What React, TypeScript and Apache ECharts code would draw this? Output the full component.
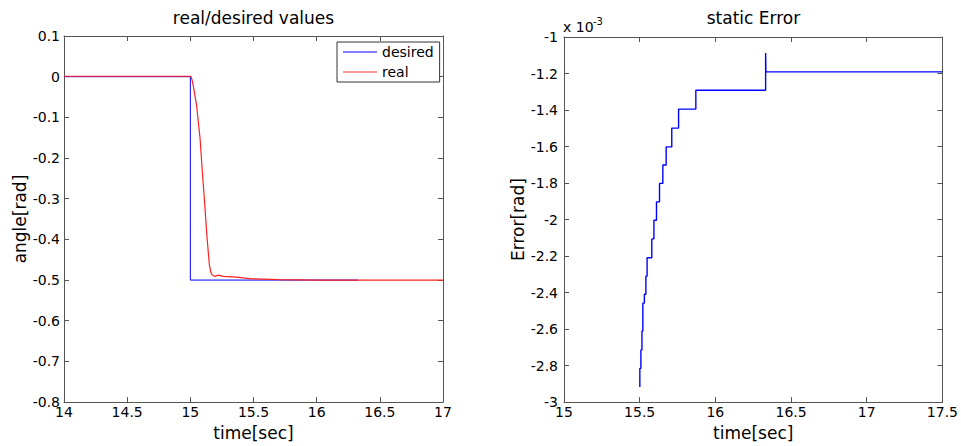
import React, { useEffect, useRef } from "react";
import * as echarts from "echarts";

// ---- data ----
const desiredT = [14, 15, 15, 16.33];
const desiredV = [0, 0, -0.5, -0.5];

const realT = [14, 15.003, 15.013, 15.024, 15.05, 15.077, 15.095, 15.114, 15.132, 15.15, 15.161, 15.172, 15.195, 15.221, 15.261, 15.367, 15.486, 15.7, 16.0, 17];
const realV = [0.001, 0.001, -0.007, -0.023, -0.072, -0.152, -0.233, -0.314, -0.395, -0.46, -0.48, -0.487, -0.491, -0.488, -0.491, -0.493, -0.497, -0.499, -0.5, -0.5];

// static error, in units of 1e-3 rad
const errT = [15.501, 15.501, 15.508, 15.515, 15.521, 15.531, 15.541, 15.549, 15.58, 15.594, 15.611, 15.631, 15.653, 15.675, 15.712, 15.757, 15.871, 16.332, 16.334, 17.5];
const errV = [-2.917, -2.815, -2.714, -2.611, -2.458, -2.409, -2.31, -2.209, -2.106, -2.004, -1.903, -1.802, -1.701, -1.602, -1.499, -1.395, -1.292, -1.088, -1.191, -1.191];

const leftX = { min: 14, max: 17, interval: 0.5 };
const leftY = { min: -0.8, max: 0.1, interval: 0.1 };
const rightX = { min: 15, max: 17.5, interval: 0.5 };
const rightY = { min: -3, max: -1, interval: 0.2 };

const titles = ["real/desired values", "static Error"];
const seriesNames = ["desired", "real"];

const zip = (a: number[], b: number[]) => a.map((v, i) => [v, b[i]]);

const FONT = "DejaVu Sans";
const AXIS_COLOR = "#555";

function axis(kind: "x" | "y", gridIndex: number, range: any, position: string, labels: boolean, name?: string, nameGap?: number, margin?: number) {
  return {
    type: "value",
    gridIndex,
    position,
    min: range.min,
    max: range.max,
    interval: range.interval,
    name: name || "",
    nameLocation: "middle",
    nameGap: nameGap || 0,
    nameTextStyle: { fontSize: 17, color: "#000", fontFamily: FONT },
    axisLine: { show: true, onZero: false, lineStyle: { color: AXIS_COLOR, width: 1 } },
    axisTick: { show: true, inside: true, length: 5, lineStyle: { color: AXIS_COLOR } },
    axisLabel: { show: labels, margin: margin || 4, fontSize: 14, color: "#000", fontFamily: FONT },
    splitLine: { show: false },
  };
}

export default function App() {
  const ref = useRef<HTMLDivElement>(null);
  useEffect(() => {
    if (!ref.current) return;
    const chart = echarts.init(ref.current, undefined, { renderer: "svg" });
    chart.setOption({
      animation: false,
      backgroundColor: "#fff",
      textStyle: { fontFamily: FONT },
      grid: [
        { left: 64, top: 36, width: 379, height: 371, containLabel: false },
        { left: 564, top: 37, width: 379, height: 370, containLabel: false },
      ],
      xAxis: [
        axis("x", 0, leftX, "bottom", true, "time[sec]", 20, 3),
        axis("x", 0, leftX, "top", false),
        axis("x", 1, rightX, "bottom", true, "time[sec]", 20, 3),
        axis("x", 1, rightX, "top", false),
      ],
      yAxis: [
        axis("y", 0, leftY, "left", true, "angle[rad]", 34, 4),
        axis("y", 0, leftY, "right", false),
        axis("y", 1, rightY, "left", true, "Error[rad]", 37, 6),
        axis("y", 1, rightY, "right", false),
      ],
      legend: {
        data: seriesNames,
        orient: "vertical",
        left: 337,
        top: 42,
        icon: "rect",
        itemWidth: 34,
        itemHeight: 1.2,
        itemGap: 4,
        padding: [2, 6, 2, 6],
        borderColor: "#333",
        borderWidth: 1,
        backgroundColor: "#fff",
        selectedMode: false,
        textStyle: { fontSize: 14, color: "#000", fontFamily: FONT, lineHeight: 16 },
      },
      graphic: [
        { type: "text", x: 253.5, y: 18, style: { text: titles[0], textAlign: "center", textVerticalAlign: "middle", fontSize: 17, fontFamily: FONT, fill: "#000" } },
        { type: "text", x: 753.5, y: 18, style: { text: titles[1], textAlign: "center", textVerticalAlign: "middle", fontSize: 17, fontFamily: FONT, fill: "#000" } },
        { type: "text", x: 563, y: 27, style: { text: "x 10", textAlign: "left", textVerticalAlign: "middle", fontSize: 14, fontFamily: FONT, fill: "#000" } },
        { type: "text", x: 593, y: 21, style: { text: "-3", textAlign: "left", textVerticalAlign: "middle", fontSize: 10, fontFamily: FONT, fill: "#000" } },
      ],
      series: [
        {
          name: seriesNames[0],
          type: "line",
          xAxisIndex: 0,
          yAxisIndex: 0,
          data: zip(desiredT, desiredV),
          showSymbol: false,
          symbol: "none",
          color: "#0000ff",
          lineStyle: { color: "#0000ff", width: 1 },
        },
        {
          name: seriesNames[1],
          type: "line",
          xAxisIndex: 0,
          yAxisIndex: 0,
          data: zip(realT, realV),
          showSymbol: false,
          symbol: "none",
          color: "#ff3030",
          lineStyle: { color: "#ff2020", width: 1.2 },
        },
        {
          name: "static error",
          type: "line",
          xAxisIndex: 2,
          yAxisIndex: 2,
          step: "end",
          data: zip(errT, errV),
          showSymbol: false,
          symbol: "none",
          color: "#0000ff",
          lineStyle: { color: "#0000ff", width: 1.4 },
        },
      ],
    });
    return () => chart.dispose();
  }, []);
  return <div ref={ref} style={{ position: "fixed", left: 0, top: 0, width: 961, height: 446 }} />;
}
